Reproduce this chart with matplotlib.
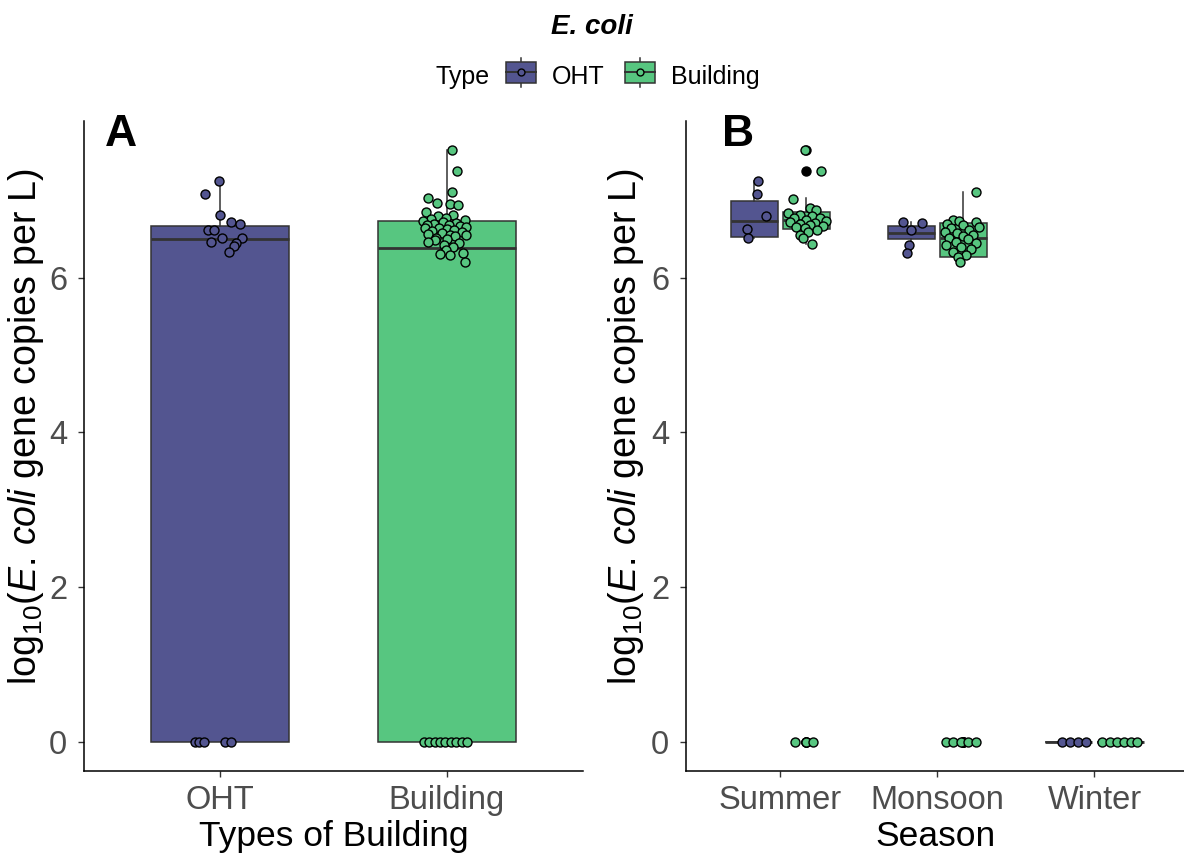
import numpy as np
import matplotlib
matplotlib.use('Agg')
import matplotlib.pyplot as plt
from matplotlib.patches import Rectangle
from matplotlib.lines import Line2D
from matplotlib.legend_handler import HandlerBase

plt.rcParams['font.family'] = ['Liberation Sans', 'DejaVu Sans']
plt.rcParams['mathtext.fontset'] = 'custom'
plt.rcParams['mathtext.rm'] = 'Liberation Sans'
plt.rcParams['mathtext.it'] = 'Liberation Sans:italic'

types = ['OHT', 'Building']
seasons = ['Summer', 'Monsoon', 'Winter']
col = {'OHT': '#535590', 'Building': '#57C680'}

###############################################################################
## Panel A: box stats (q1, med, q3, whislo, whishi) and jittered points      ##
###############################################################################
a_stats = {'OHT': [0.0, 6.50, 6.67, 0.0, 7.25],
           'Building': [0.0, 6.39, 6.74, 0.0, 7.65]}

a_oht_vals = [7.25, 7.08, 6.81, 6.72, 6.70, 6.62, 6.62, 6.52, 6.51, 6.46, 6.45,
              6.41, 6.33, 0, 0, 0, 0, 0]
a_oht_jit = [-0.004, -0.066, 0.0, 0.048, 0.088, -0.053, -0.026, 0.009, 0.097,
             -0.04, 0.07, 0.062, 0.04, -0.11, -0.092, -0.07, 0.022, 0.048]

a_bld_vals = [7.65, 7.38, 7.11, 7.03, 6.97, 6.95, 6.94, 6.85, 6.82, 6.80, 6.78,
              6.76, 6.75, 6.74, 6.72, 6.71, 6.70, 6.69, 6.68, 6.67, 6.66, 6.65,
              6.64, 6.63, 6.62, 6.61, 6.60, 6.58, 6.57, 6.56, 6.55, 6.54, 6.52,
              6.50, 6.49, 6.47, 6.45, 6.42, 6.40, 6.36, 6.31, 6.29, 6.32, 6.20,
              0, 0, 0, 0, 0, 0, 0, 0, 0]
a_bld_jit = [0.022, 0.044, 0.022, -0.084, -0.044, 0.013, 0.048, -0.093, 0.026,
             -0.04, -0.004, -0.07, 0.079, -0.106, -0.018, 0.04, -0.057, 0.009,
             -0.088, 0.057, 0.084, -0.035, -0.097, 0.0, 0.031, -0.066, 0.066,
             -0.022, -0.084, 0.084, 0.013, 0.035, -0.048, 0.0, -0.053, -0.084,
             0.053, -0.013, 0.026, -0.004, -0.031, 0.013, 0.07, 0.079,
             -0.1, -0.079, -0.053, -0.031, -0.009, 0.018, 0.04, 0.066, 0.088]

###############################################################################
## Panel B: per season                                                       ##
###############################################################################
b_stats = {'OHT': [[6.53, 6.74, 7.00, 6.52, 7.25],
                   [6.50, 6.58, 6.67, 6.32, 6.72],
                   [0, 0, 0, 0, 0]],
           'Building': [[6.63, 6.75, 6.85, 6.44, 7.04],
                        [6.27, 6.52, 6.71, 6.21, 7.11],
                        [0, 0, 0, 0, 0]]}
b_fliers = {'OHT': [[], [], []],
            'Building': [[7.65, 7.38, 0, 0, 0], [0, 0, 0, 0, 0], []]}

b_vals = {'OHT': [[7.25, 7.08, 6.80, 6.63, 6.52],
                  [6.72, 6.71, 6.62, 6.43, 6.32],
                  [0, 0, 0, 0]],
          'Building': [[7.65, 7.38, 7.02, 6.90, 6.88, 6.84, 6.82, 6.80, 6.78,
                        6.77, 6.75, 6.74, 6.72, 6.71, 6.70, 6.68, 6.67, 6.66,
                        6.64, 6.62, 6.60, 6.56, 6.52, 6.44, 0, 0, 0],
                       [7.11, 6.75, 6.73, 6.72, 6.70, 6.68, 6.66, 6.64, 6.62,
                        6.60, 6.58, 6.56, 6.54, 6.52, 6.50, 6.47, 6.45, 6.42,
                        6.40, 6.37, 6.34, 6.30, 6.27, 6.21, 0, 0, 0, 0, 0],
                       [0, 0, 0, 0, 0, 0]]}
b_jit = {'OHT': [[0.025, 0.019, 0.076, -0.045, -0.038],
                 [-0.051, 0.07, 0.0, -0.013, -0.025],
                 [-0.041, 0.01, 0.06, 0.11]],
         'Building': [[-0.006, 0.096, -0.083, 0.025, 0.064, -0.115, -0.038,
                       0.038, -0.076, 0.089, 0.0, 0.127, -0.102, 0.057, -0.038,
                       0.025, 0.108, -0.064, -0.006, 0.07, 0.013, -0.038,
                       -0.019, 0.038, -0.07, 0.0, 0.045],
                      [0.08, -0.067, -0.029, 0.08, -0.105, -0.003, 0.099, -0.08,
                       0.035, -0.118, -0.041, 0.06, -0.003, -0.092, 0.029,
                       -0.048, 0.08, -0.111, -0.016, 0.048, -0.067, 0.016,
                       -0.035, -0.022, -0.111, -0.067, -0.016, 0.029, 0.08],
                      [-0.121, -0.07, -0.025, 0.019, 0.064, 0.108]]}

edge = '#333333'
pt_size = 42


def box(ax, pos, s, color, width, fliers=()):
    st = dict(q1=s[0], med=s[1], q3=s[2], whislo=s[3], whishi=s[4],
              fliers=list(fliers))
    ax.bxp([st], positions=[pos], widths=width, showcaps=False,
           patch_artist=True,
           boxprops=dict(facecolor=color, edgecolor=edge, linewidth=1.1),
           medianprops=dict(color=edge, linewidth=2.0),
           whiskerprops=dict(color=edge, linewidth=1.1),
           flierprops=dict(marker='o', markerfacecolor='black',
                           markeredgecolor='black', markersize=6.5),
           zorder=2)


def style(ax):
    for s in ['top', 'right']:
        ax.spines[s].set_visible(False)
    for s in ['left', 'bottom']:
        ax.spines[s].set_linewidth(1.1)
        ax.spines[s].set_color('black')
    ax.tick_params(axis='both', labelsize=23.5, labelcolor='#4d4d4d',
                   color='#333333', length=4, width=1.0)
    ax.tick_params(axis='x', pad=6)
    ax.tick_params(axis='y', pad=8)
    ax.set_ylim(-0.38, 8.03)
    ax.set_yticks([0, 2, 4, 6])


ylab = r'log$_{10}$(' + r'$\mathit{E.\,coli}$' + ' gene copies per L)'

fig = plt.figure(figsize=(11.84, 8.59), dpi=100)
axa = fig.add_axes([84 / 1184, 88 / 859, 499 / 1184, 650 / 859])
axb = fig.add_axes([686 / 1184, 88 / 859, 498 / 1184, 650 / 859])

# panel A
box(axa, 1, a_stats['OHT'], col['OHT'], 0.61)
box(axa, 2, a_stats['Building'], col['Building'], 0.61)
axa.scatter(1 + np.array(a_oht_jit), a_oht_vals, s=pt_size,
            c=col['OHT'], edgecolors='black', linewidths=1.0, zorder=3)
axa.scatter(2 + np.array(a_bld_jit), a_bld_vals, s=pt_size,
            c=col['Building'], edgecolors='black', linewidths=1.0, zorder=3)
axa.set_xlim(0.4, 2.6)
axa.set_xticks([1, 2])
axa.set_xticklabels(types)
style(axa)
axa.set_xlabel('Types of Building', fontsize=25.5, labelpad=3)
axa.set_ylabel(ylab, fontsize=27)
axa.yaxis.set_label_coords(-0.076, 0.53)
axa.text(0.042, 1.01, 'A', transform=axa.transAxes, fontsize=32,
         fontweight='bold', va='top', ha='left')

# panel B
dodge = {'OHT': -0.166, 'Building': 0.166}
for t in types:
    for i in range(3):
        x = i + 1 + dodge[t]
        box(axb, x, b_stats[t][i], col[t], 0.30, b_fliers[t][i])
        axb.scatter(x + np.array(b_jit[t][i]), b_vals[t][i], s=pt_size,
                    c=col[t], edgecolors='black', linewidths=1.0, zorder=3)
axb.set_xlim(0.4, 3.57)
axb.set_xticks([1, 2, 3])
axb.set_xticklabels(seasons)
style(axb)
axb.set_xlabel('Season', fontsize=25.5, labelpad=3)
axb.set_ylabel(ylab, fontsize=27)
axb.yaxis.set_label_coords(-0.08, 0.53)
axb.text(0.072, 1.01, 'B', transform=axb.transAxes, fontsize=32,
         fontweight='bold', va='top', ha='left')

# title and legend
fig.text(0.5, 0.969, 'E. coli', fontsize=20, fontweight='bold',
         fontstyle='italic', ha='center', va='center')


class BoxKey(HandlerBase):
    def create_artists(self, legend, orig, xd, yd, w, h, fs, trans):
        c = orig.get_facecolor()
        cx = xd + w / 2
        arts = [Line2D([cx, cx], [yd - 0.2 * h, yd + 1.2 * h], color=edge, lw=1.1),
                Rectangle((xd, yd), w, h, facecolor=c, edgecolor=edge, lw=1.1),
                Line2D([xd, xd + w], [yd + h / 2] * 2, color=edge, lw=1.4),
                Line2D([cx], [yd + h / 2], marker='o', markersize=5,
                       markerfacecolor=c, markeredgecolor='black', lw=0)]
        for a in arts:
            a.set_transform(trans)
        return arts


handles = [Rectangle((0, 0), 1, 1, facecolor=col[t]) for t in types]
fig.legend(handles, types, handler_map={Rectangle: BoxKey()}, ncol=2,
           loc='center', bbox_to_anchor=(633 / 1184, 0.910), frameon=False,
           fontsize=18, handlelength=1.2, handleheight=0.9, columnspacing=0.8,
           handletextpad=0.65)
fig.text(435 / 1184, 0.910, 'Type', fontsize=18, ha='left', va='center')

fig.savefig('out.png', dpi=100)
